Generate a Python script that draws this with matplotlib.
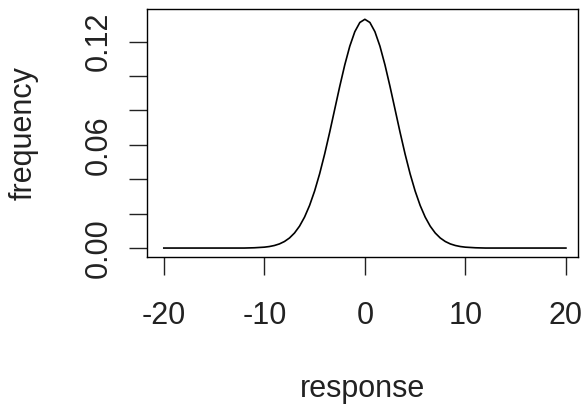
import matplotlib
matplotlib.use("Agg")
import matplotlib.pyplot as plt

# curve (symmetric bell, peak ~0.133 at 0)
response = [-20, -12, -11, -10, -9.5, -9, -8.5, -8, -7.5, -7, -6.5, -6, -5.5, -5,
            -4.5, -4, -3.5, -3, -2.5, -2, -1.5, -1, -0.5, 0,
            0.5, 1, 1.5, 2, 2.5, 3, 3.5, 4, 4.5, 5, 5.5, 6, 6.5, 7,
            7.5, 8, 8.5, 9, 9.5, 10, 11, 12, 20]
frequency = [0.0, 0.0, 0.00016, 0.00051, 0.00088, 0.00148, 0.0024, 0.0038, 0.00584,
             0.00874, 0.01272, 0.018, 0.02477, 0.03316, 0.04317, 0.05467, 0.06733,
             0.08066, 0.09397, 0.10648, 0.11736, 0.12579, 0.13115, 0.133,
             0.13115, 0.12579, 0.11736, 0.10648, 0.09397, 0.08066, 0.06733, 0.05467,
             0.04317, 0.03316, 0.02477, 0.018, 0.01272, 0.00874, 0.00584, 0.0038,
             0.0024, 0.00148, 0.00088, 0.00051, 0.00016, 0.0, 0.0]

xticks = [-20, -10, 0, 10, 20]
yticks = [0.0, 0.02, 0.04, 0.06, 0.08, 0.10, 0.12]
ylabels = ["0.00", "", "", "0.06", "", "", "0.12"]

plt.rcParams['font.family'] = ['Liberation Sans', 'DejaVu Sans']
plt.rcParams['axes.unicode_minus'] = False

fig = plt.figure(figsize=(5.82, 4.08), dpi=100)
ax = fig.add_axes([0.2521, 0.370, 0.741, 0.608])
ax.plot(response, frequency, color='black', lw=1.2)
ax.set_xlim(-21.7, 21.2)
ax.set_ylim(-0.00523, 0.139)

ax.set_xticks(xticks)
ax.set_yticks(yticks)
ax.set_yticklabels(ylabels, rotation=90, va='center')
ax.tick_params(axis='both', direction='out', length=13, width=1.0,
               labelsize=22, colors='#222222')
ax.tick_params(axis='x', pad=19)
ax.tick_params(axis='y', pad=11)
for s in ax.spines.values():
    s.set_linewidth(1.0)

fig.text(362 / 582, 1 - 397 / 408, 'response', ha='center', va='baseline',
         fontsize=22, color='#222222')
fig.text(24 / 582, 1 - 133 / 408, 'frequency', ha='center', va='center',
         rotation=90, fontsize=22, color='#222222')

fig.savefig('out.png', dpi=100)
